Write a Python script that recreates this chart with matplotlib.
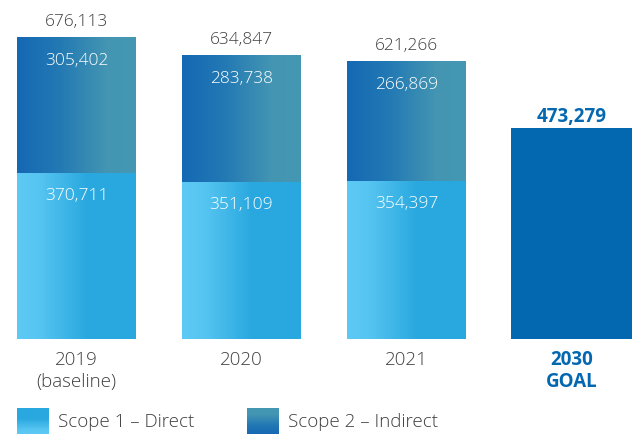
import numpy as np
import matplotlib
matplotlib.use("Agg")
import matplotlib.pyplot as plt
from matplotlib.colors import LinearSegmentedColormap

# data
years = ["2019\n(baseline)", "2020", "2021"]
scope1 = [370711, 351109, 354397]
scope2 = [305402, 283738, 266869]
goal_label = "2030\nGOAL"
goal_value = 473279
legend_labels = ["Scope 1 \u2013 Direct", "Scope 2 \u2013 Indirect"]

plt.rcParams["font.family"] = ["Open Sans", "DejaVu Sans"]

S1_CMAP = LinearSegmentedColormap.from_list(
    "s1", [(0.0, "#5ccaf4"), (0.18, "#57c5f1"), (0.58, "#2aa9e0"), (1.0, "#29a8e1")])
S2_CMAP = LinearSegmentedColormap.from_list(
    "s2", [(0.0, "#1568b3"), (0.35, "#2279b4"), (0.75, "#4395b2"), (1.0, "#4598b2")])
GOAL_BLUE = "#0468b1"
DARK = "#3f3f3f"
PT = 0.72  # points per pixel at dpi 100
FS = 12.5
FS_LBL = 13.5

fig = plt.figure(figsize=(6.4, 4.35), dpi=100)
ax = fig.add_axes([0, 95 / 435, 1, 340 / 435])
ax.axis("off")

width = 0.72
x = np.arange(len(years))
grad = np.linspace(0, 1, 256).reshape(1, -1)


def fill_gradient(patches, cmap):
    for p in patches:
        x0, y0 = p.get_x(), p.get_y()
        im = ax.imshow(grad, cmap=cmap, aspect="auto", origin="lower",
                       extent=(x0, x0 + p.get_width(), y0, y0 + p.get_height()))
        im.set_clip_path(p)
        p.set_facecolor("none")


def category_label(xpos, text, **kw):
    for k, line in enumerate(text.split("\n")):
        ax.annotate(line, (xpos, 0), xytext=(0, -(20 + 22 * k) * PT),
                    textcoords="offset points", ha="center", va="center",
                    fontsize=FS_LBL, **kw)


b1 = ax.bar(x, scope1, width, linewidth=0)
b2 = ax.bar(x, scope2, width, bottom=scope1, linewidth=0)
fill_gradient(b1, S1_CMAP)
fill_gradient(b2, S2_CMAP)
ax.bar([len(years)], [goal_value], width * 1.02, color=GOAL_BLUE, linewidth=0)
ax.set_xlim(-0.4636, 3.415)
ax.set_ylim(0, 761000)

for i in x:
    tot = scope1[i] + scope2[i]
    ax.annotate(f"{tot:,}", (i, tot), xytext=(0, 16 * PT), textcoords="offset points",
                ha="center", va="center", fontsize=FS, color=DARK, fontweight="light")
    ax.annotate(f"{scope2[i]:,}", (i, tot), xytext=(0, -23 * PT), textcoords="offset points",
                ha="center", va="center", fontsize=FS, color="white", fontweight="light")
    ax.annotate(f"{scope1[i]:,}", (i, scope1[i]), xytext=(0, -22 * PT), textcoords="offset points",
                ha="center", va="center", fontsize=FS, color="white", fontweight="light")
    category_label(i, years[i], color=DARK, fontweight="light")

gi = len(years)
ax.annotate(f"{goal_value:,}", (gi, goal_value), xytext=(0, 12 * PT), textcoords="offset points",
            ha="center", va="center", fontsize=FS + 1, color=GOAL_BLUE, fontweight="bold")
category_label(gi, goal_label, color=GOAL_BLUE, fontweight="bold")

# legend swatches with vertical gradients
vgrad = np.linspace(0, 1, 256).reshape(-1, 1)
for left, cmap, label in [(17, S1_CMAP, legend_labels[0]), (247, S2_CMAP, legend_labels[1])]:
    sw = fig.add_axes([left / 640, 0, 32 / 640, 26 / 435])
    sw.imshow(vgrad, cmap=cmap, aspect="auto", origin="lower")
    sw.axis("off")
    fig.text((left + 41) / 640, 13 / 435, label, ha="left", va="center",
             fontsize=FS_LBL, color=DARK, fontweight="light")

fig.savefig("out.png", dpi=100)
